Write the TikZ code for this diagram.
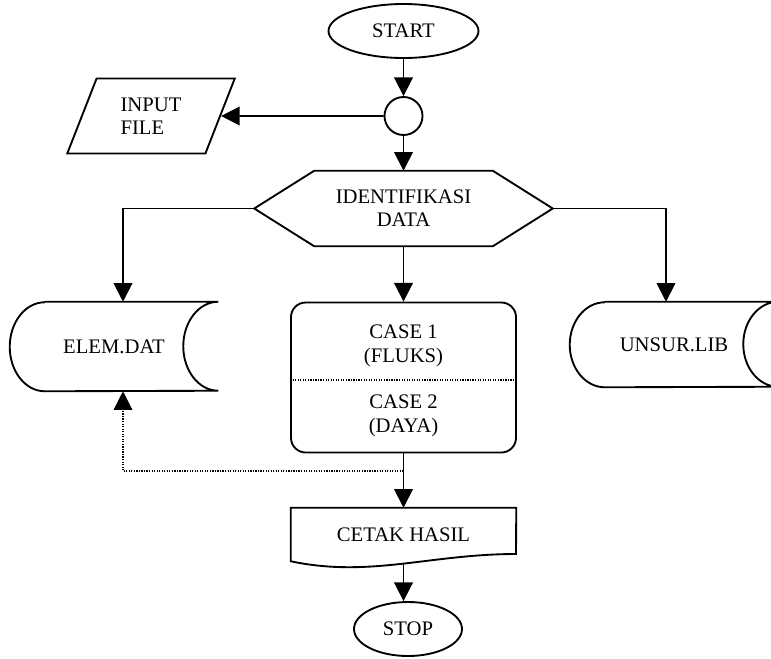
\documentclass[tikz,border=0pt]{standalone}
\usepackage{fontspec}
\setmainfont{Liberation Serif}
\usepackage{tikz}
\usetikzlibrary{arrows.meta, shapes.geometric}

\tikzset{
  garis/.style={line width=1.4pt},
  arr/.style={garis, -{Triangle[length=14pt,width=14pt]}},
  titik/.style={line width=0.9pt, densely dotted},
  teks/.style={font=\fontsize{15.5}{17.5}\selectfont, align=center, inner sep=0pt},
  terminal/.style={teks, garis, draw, ellipse, minimum height=40.5pt},
  kotak/.style={teks, minimum width=#1}
}

\begin{document}
\begin{tikzpicture}[x=0.75pt, y=-0.75pt]
        \useasboundingbox (0,0) rectangle (771,658);

        % Awal dan input
        \node[terminal, minimum width=112.5pt] (start) at (403.5,31) {START};
        \node[garis, draw, circle, minimum size=28.5pt, inner sep=0pt] (joint) at (403.5,116) {};
        \node[teks, garis, draw, trapezium, trapezium left angle=66, trapezium right angle=114,
              trapezium stretches=true, minimum height=56.25pt, minimum width=126pt,
              align=left] (input) at (151,116) {INPUT\\FILE};

        % Identifikasi
        \node[kotak=133.5pt, minimum height=56.25pt] (ident) at (403.5,208.5) {IDENTIFIKASI\\DATA};
        \coordinate (identL) at ([xshift=-45pt]ident.west);
        \coordinate (identR) at ([xshift=45pt]ident.east);
        \draw[garis] (ident.north west) -- (ident.north east) -- (identR)
            -- (ident.south east) -- (ident.south west) -- (identL) -- cycle;

        % File data
        \node[kotak=156pt, minimum height=66.75pt] (elem) at (114,346.5) {ELEM.DAT};
        \draw[garis] ([xshift=26.25pt]elem.north west) -- (elem.north east)
            arc[start angle=90, end angle=270, x radius=26.25pt, y radius=33.375pt]
            -- ([xshift=26.25pt]elem.south west)
            arc[start angle=270, end angle=90, x radius=26.25pt, y radius=33.375pt];

        \node[kotak=156pt, minimum height=63.75pt] (unsur) at (674,344.5) {UNSUR.LIB};
        \draw[garis] ([xshift=26.25pt]unsur.north west) -- (unsur.north east)
            arc[start angle=90, end angle=270, x radius=26.25pt, y radius=31.875pt]
            -- ([xshift=26.25pt]unsur.south west)
            arc[start angle=270, end angle=90, x radius=26.25pt, y radius=31.875pt];

        % Case
        \node[garis, draw, rounded corners=11pt, minimum width=168.75pt, minimum height=112.5pt] (case) at (403.5,377.5) {};
        \node[teks] (caseA) at (403.5,346) {CASE 1\\(FLUKS)};
        \node[teks] (caseB) at (403.5,416) {CASE 2\\(DAYA)};
        \coordinate (split) at (403.5,380);
        \draw[titik] (case.west |- split) -- (case.east |- split);

        % Cetak dan selesai
        \node[kotak=168.75pt, minimum height=39.75pt] (cetak) at (403.5,534.5) {CETAK HASIL};
        \draw[garis] (cetak.north west) -- (cetak.north east) -- (516,554)
            .. controls (430,554) and (370,578) .. (cetak.south west) -- cycle;
        \coordinate (cetakout) at (403.5,564);
        \node[terminal, minimum width=81pt] (stop) at (408,629) {STOP};

        % Panah
        \draw[arr] (start) -- (joint);
        \draw[arr] (joint) -- (input);
        \draw[arr] (joint) -- (ident.north);
        \draw[arr] (identL) -| ([xshift=6.75pt]elem.north);
        \draw[arr] (identR) -| ([xshift=-6pt]unsur.north);
        \draw[arr] (ident.south) -- (case.north);
        \draw[arr] (case.south) -- (cetak.north);
        \draw[arr] (cetakout) -- (cetakout |- stop.north);

        \coordinate (balik) at (403.5,471);
        \draw[titik, -{Triangle[length=14pt,width=14pt]}] (balik) -| ([xshift=6.75pt]elem.south);
\end{tikzpicture}
\end{document}
